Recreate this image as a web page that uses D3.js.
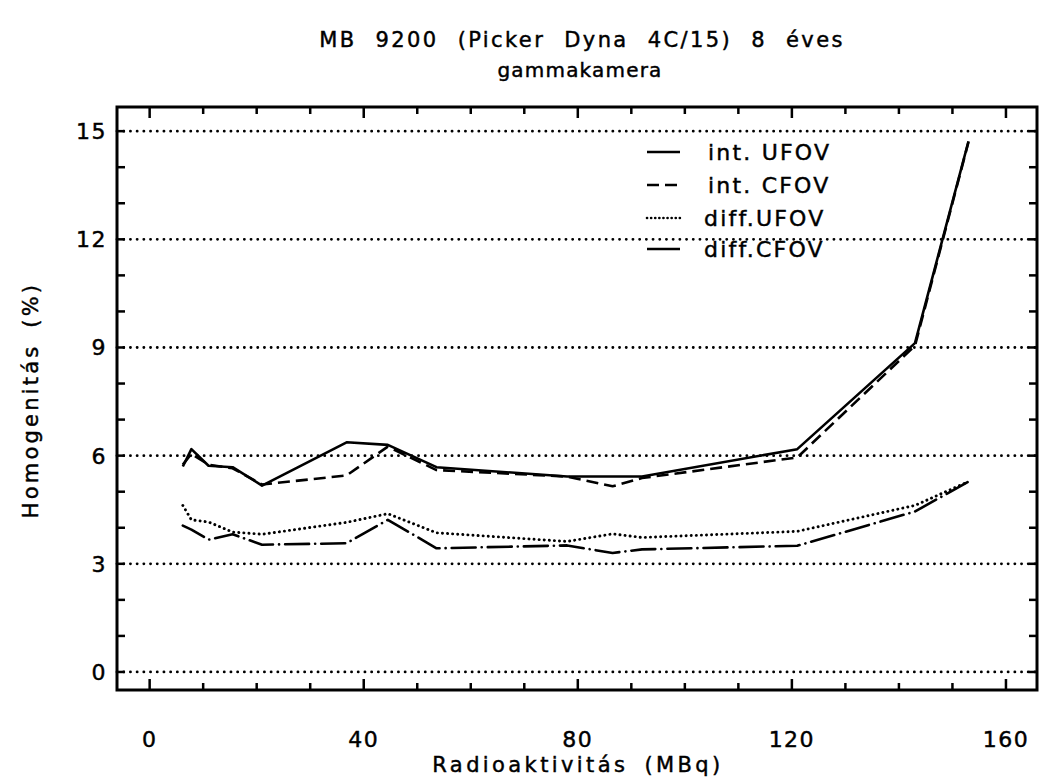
<!DOCTYPE html>
<html lang="hu">
<head>
<meta charset="UTF-8">
<title>MB 9200 gammakamera</title>
<script src="https://cdnjs.cloudflare.com/ajax/libs/d3/7.8.5/d3.min.js"></script>
<style>
  body { margin: 0; background: #fff; }
  svg text { font-family: "DejaVu Sans", sans-serif; fill: #000; stroke: #000; stroke-width: 0.45px; }
</style>
</head>
<body>
<svg id="chart" width="1042" height="780"></svg>
<script>
    // activity values (MBq), shared by all four series
    const activity = [6.2, 7.8, 11, 15.5, 21, 36.8, 44.5, 53.6, 78, 86.5, 92, 121, 143, 153];

    const intUFOV  = [5.70, 6.18, 5.72, 5.68, 5.17, 6.37, 6.30, 5.68, 5.42, 5.42, 5.42, 6.18, 9.12, 14.72];
    const intCFOV  = [5.75, 6.05, 5.75, 5.65, 5.20, 5.45, 6.25, 5.60, 5.42, 5.15, 5.38, 5.95, 9.05, 14.70];
    const diffUFOV = [4.62, 4.22, 4.16, 3.88, 3.82, 4.15, 4.39, 3.86, 3.62, 3.83, 3.73, 3.90, 4.62, 5.28];
    const diffCFOV = [4.06, 3.95, 3.67, 3.82, 3.53, 3.57, 4.22, 3.43, 3.51, 3.30, 3.40, 3.50, 4.45, 5.28];

    const seriesNames = ["int. UFOV", "int. CFOV", "diff.UFOV", "diff.CFOV"];
    const seriesDash = [null, "12,6", "0.1,5", "24,6,0.1,6"];

    const xTickLabels = [0, 40, 80, 120, 160];
    const yTickLabels = [0, 3, 6, 9, 12, 15];

    const title1 = "MB 9200 (Picker Dyna 4C/15) 8 éves";
    const title2 = "gammakamera";
    const xTitle = "Radioaktivitás (MBq)";
    const yTitle = "Homogenitás (%)";

    const svg = d3.select("#chart");
    const plotLeft = 117, plotRight = 1037, plotTop = 107, plotBottom = 690;

    const x = d3.scaleLinear().domain([-6.1, 165.8]).range([plotLeft, plotRight]);
    const y = d3.scaleLinear().domain([-0.5, 15.67]).range([plotBottom, plotTop]);

    // dotted grid at labelled y values
    svg.append("g")
        .selectAll("line")
        .data(yTickLabels)
        .enter()
        .append("line")
        .attr("x1", plotLeft).attr("x2", plotRight)
        .attr("y1", d => y(d)).attr("y2", d => y(d))
        .attr("stroke", "#000")
        .attr("stroke-width", 2.8)
        .attr("stroke-linecap", "round")
        .attr("stroke-dasharray", "0.1,6.6");

    // frame
    svg.append("rect")
        .attr("x", plotLeft).attr("y", plotTop)
        .attr("width", plotRight - plotLeft).attr("height", plotBottom - plotTop)
        .attr("fill", "none")
        .attr("stroke", "#000")
        .attr("stroke-width", 3);

    // inward ticks on all four sides
    const xMinor = d3.range(0, 161, 10);
    const yMinor = d3.range(0, 16, 1);
    const ticks = svg.append("g").attr("stroke", "#000").attr("stroke-width", 2.5);
    xMinor.forEach(v => {
        const len = v % 40 === 0 ? 11 : 7;
        ticks.append("line").attr("x1", x(v)).attr("x2", x(v)).attr("y1", plotBottom).attr("y2", plotBottom - len);
        ticks.append("line").attr("x1", x(v)).attr("x2", x(v)).attr("y1", plotTop).attr("y2", plotTop + len);
    });
    yMinor.forEach(v => {
        const len = 8;
        ticks.append("line").attr("y1", y(v)).attr("y2", y(v)).attr("x1", plotLeft).attr("x2", plotLeft + len);
        ticks.append("line").attr("y1", y(v)).attr("y2", y(v)).attr("x1", plotRight).attr("x2", plotRight - len);
    });

    // tick labels
    svg.append("g")
        .selectAll("text")
        .data(xTickLabels)
        .enter()
        .append("text")
        .attr("x", d => x(d))
        .attr("y", 747)
        .attr("text-anchor", "middle")
        .attr("font-size", 22)
        .attr("letter-spacing", 1.5)
        .text(d => d);

    svg.append("g")
        .selectAll("text")
        .data(yTickLabels)
        .enter()
        .append("text")
        .attr("x", 107)
        .attr("y", d => y(d) + 8)
        .attr("text-anchor", "end")
        .attr("font-size", 22)
        .attr("letter-spacing", 1.5)
        .text(d => d);

    // titles
    svg.append("text").attr("x", 582).attr("y", 47)
        .attr("text-anchor", "middle").attr("font-size", 21)
        .attr("letter-spacing", 2.4).attr("word-spacing", 10)
        .text(title1);
    svg.append("text").attr("x", 580).attr("y", 77)
        .attr("text-anchor", "middle").attr("font-size", 20).attr("letter-spacing", 1.2)
        .text(title2);
    svg.append("text").attr("x", 578).attr("y", 772)
        .attr("text-anchor", "middle").attr("font-size", 21).attr("letter-spacing", 3.4)
        .attr("word-spacing", 6)
        .text(xTitle);
    svg.append("text")
        .attr("transform", "translate(38," + 400 + ") rotate(-90)")
        .attr("text-anchor", "middle").attr("font-size", 21).attr("letter-spacing", 3.2)
        .attr("word-spacing", 6)
        .text(yTitle);

    // series lines
    const lineGen = d3.line().x(d => x(d[0])).y(d => y(d[1]));
    [intUFOV, intCFOV, diffUFOV, diffCFOV].forEach((vals, i) => {
        svg.append("path")
            .datum(activity.map((a, j) => [a, vals[j]]))
            .attr("d", lineGen)
            .attr("fill", "none")
            .attr("stroke", "#000")
            .attr("stroke-width", i === 2 ? 2.9 : 2.6)
            .attr("stroke-linejoin", "round")
            .attr("stroke-linecap", i >= 2 ? "round" : "butt")
            .attr("stroke-dasharray", seriesDash[i]);
    });

    // legend
    const legendY = [152, 185, 218, 249];
    const legendTextX = [708, 708, 704, 704];
    const legend = svg.append("g");
    seriesNames.forEach((name, i) => {
        legend.append("line")
            .attr("x1", 647).attr("x2", 680)
            .attr("y1", legendY[i]).attr("y2", legendY[i])
            .attr("stroke", "#000")
            .attr("stroke-width", 2.6)
            .attr("stroke-linecap", i === 2 ? "round" : "butt")
            .attr("stroke-dasharray", i === 1 ? "12,6" : i === 2 ? "0.1,4" : null);
        legend.append("text")
            .attr("x", legendTextX[i]).attr("y", legendY[i] + 8)
            .attr("font-size", 22).attr("letter-spacing", 2.2)
            .text(name);
    });
</script>
</body>
</html>
